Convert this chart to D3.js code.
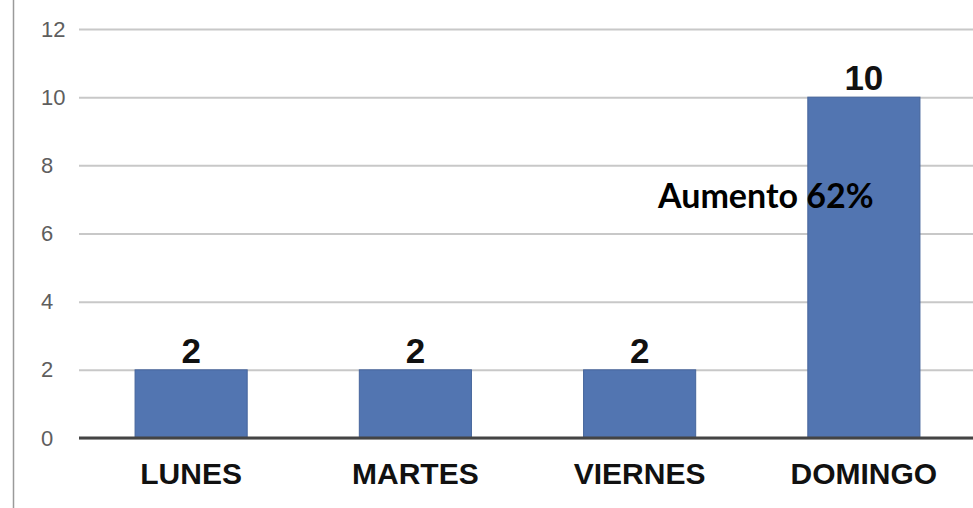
<!DOCTYPE html>
<html>
<head>
<meta charset="utf-8">
<script src="https://cdn.jsdelivr.net/npm/d3@7"></script>
<style>
  body { margin: 0; background: #fff; }
  svg { display: block; }
</style>
</head>
<body>
<div id="chart"></div>
<script>
// chart values
const days = ['LUNES', 'MARTES', 'VIERNES', 'DOMINGO'];
const counts = [2, 2, 2, 10];
const yTicks = [0, 2, 4, 6, 8, 10, 12];
const note = 'Aumento 62%';

const width = 973, height = 508;
const margin = {top: 29, right: -3, bottom: 70, left: 79};

const svg = d3.select('#chart').append('svg')
    .attr('width', width)
    .attr('height', height);

// faint frame line on the left
svg.append('line')
    .attr('x1', 13.5).attr('x2', 13.5)
    .attr('y1', 0).attr('y2', height)
    .attr('stroke', '#9a9a9a')
    .attr('stroke-width', 1.5);

const x = d3.scaleBand()
    .domain(days)
    .range([margin.left, width - margin.right])
    .paddingInner(0.5)
    .paddingOuter(0.25);

const y = d3.scaleLinear()
    .domain([0, 12])
    .range([height - margin.bottom, margin.top]);

// gridlines + y labels (labels are left aligned in the original)
const yAxis = svg.append('g')
    .attr('transform', `translate(${margin.left},0)`)
    .call(d3.axisLeft(y).tickValues(yTicks).tickSize(-(width - margin.left)));
yAxis.select('.domain').remove();
yAxis.selectAll('.tick line')
    .attr('stroke', '#c8c8c8')
    .attr('stroke-width', 2);
yAxis.selectAll('.tick text')
    .attr('x', 41 - margin.left)
    .attr('text-anchor', 'start')
    .attr('fill', '#5e5e5e')
    .style('font-family', 'Liberation Sans, Arial, sans-serif')
    .style('font-size', '22px');

// bars
svg.selectAll('rect.bar')
    .data(counts)
    .join('rect')
    .attr('class', 'bar')
    .attr('x', (d, i) => x(days[i]))
    .attr('y', d => y(d))
    .attr('width', x.bandwidth())
    .attr('height', d => y(0) - y(d))
    .attr('fill', '#5275b1')
    .attr('stroke', '#46659c')
    .attr('stroke-width', 1);

// baseline
svg.append('line')
    .attr('x1', margin.left).attr('x2', width)
    .attr('y1', y(0)).attr('y2', y(0))
    .attr('stroke', '#444')
    .attr('stroke-width', 3);

// value labels
svg.selectAll('text.val')
    .data(counts)
    .join('text')
    .attr('class', 'val')
    .attr('x', (d, i) => x(days[i]) + x.bandwidth() / 2)
    .attr('y', d => y(d) - 7)
    .attr('text-anchor', 'middle')
    .style('font-family', 'Liberation Sans, Arial, sans-serif')
    .style('font-weight', 'bold')
    .style('font-size', '35px')
    .attr('fill', '#111')
    .text(d => d);

// category labels
const xAxis = svg.append('g')
    .attr('transform', `translate(0,${y(0)})`)
    .call(d3.axisBottom(x).tickSize(0).tickPadding(25));
xAxis.select('.domain').remove();
xAxis.selectAll('.tick text')
    .attr('fill', '#111')
    .style('font-family', 'Liberation Sans, Arial, sans-serif')
    .style('font-weight', 'bold')
    .style('font-size', '30px');

// annotation
svg.append('text')
    .attr('x', 658)
    .attr('y', y(6.75))
    .style('font-family', 'Lato, Open Sans, sans-serif')
    .style('font-weight', 'bold')
    .style('font-size', '34px')
    .attr('fill', '#000')
    .text(note);
</script>
</body>
</html>
